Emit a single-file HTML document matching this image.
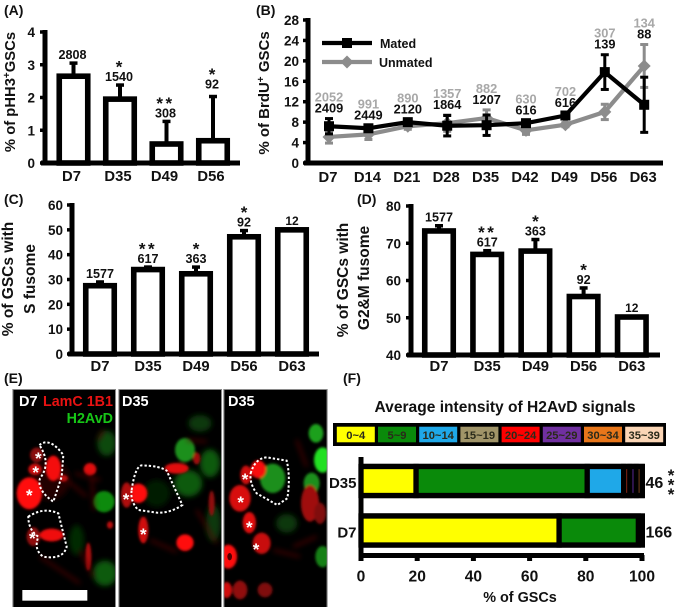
<!DOCTYPE html>
<html lang="en">
<head>
<meta charset="utf-8">
<title>GSC aging figure</title>
<style>
html,body{margin:0;padding:0;background:#fff;}
body{width:676px;height:607px;overflow:hidden;}
svg{display:block;filter:blur(0.35px);}
text{font-family:"Liberation Sans",sans-serif;font-weight:bold;fill:#111;}
</style>
</head>
<body>
<svg id="fig" width="676" height="607" viewBox="0 0 676 607" xmlns="http://www.w3.org/2000/svg">
<defs>
<filter id="soft" x="-50%" y="-50%" width="200%" height="200%"><feGaussianBlur stdDeviation="4"/></filter>
<filter id="softer" x="-50%" y="-50%" width="200%" height="200%"><feGaussianBlur stdDeviation="8"/></filter>
<clipPath id="clip1"><rect x="40" y="30" width="305" height="651"/></clipPath>
<clipPath id="clip2"><rect x="358" y="30" width="305" height="651"/></clipPath>
<clipPath id="clip3"><rect x="673" y="30" width="307" height="651"/></clipPath>
</defs>

<text x="4" y="15" font-size="14">(A)</text>
<text x="256" y="15" font-size="14">(B)</text>
<text x="4" y="204" font-size="14">(C)</text>
<text x="357" y="204" font-size="14">(D)</text>
<text x="4" y="383" font-size="14">(E)</text>
<text x="343" y="383" font-size="14">(F)</text>

<g id="panel-a"></g>
<g id="panel-b"></g>
<g id="panel-c"></g>
<g id="panel-d"></g>

<text transform="translate(15,92) rotate(-90)" text-anchor="middle" font-size="14.8">% of pHH3<tspan font-size="10" dy="-5">+</tspan><tspan dy="5">GSCs</tspan></text>
<text transform="translate(269,93) rotate(-90)" text-anchor="middle" font-size="15">% of BrdU<tspan font-size="10" dy="-5">+</tspan><tspan dy="5"> GSCs</tspan></text>
<text transform="translate(13,279) rotate(-90)" text-anchor="middle" font-size="15.5">% of GSCs with</text>
<text transform="translate(35,279) rotate(-90)" text-anchor="middle" font-size="15.5">S fusome</text>
<text transform="translate(348,280) rotate(-90)" text-anchor="middle" font-size="15.5">% of GSCs with</text>
<text transform="translate(369,278) rotate(-90)" text-anchor="middle" font-size="15.5">G2&amp;M fusome</text>

<g id="panel-e">
  <g transform="translate(0,380) scale(0.33333)">
    <rect x="37" y="27" width="311" height="657" fill="#8a8a8a"/>
    <rect x="355" y="27" width="311" height="657" fill="#8a8a8a"/>
    <rect x="670" y="27" width="313" height="657" fill="#8a8a8a"/>
    <g clip-path="url(#clip1)">
      <rect x="40" y="30" width="305" height="651" fill="#000"/>
      <g filter="url(#softer)">
        <ellipse cx="320" cy="190" rx="28" ry="38" fill="#0b4a0b"/>
        <ellipse cx="315" cy="580" rx="36" ry="38" fill="#0b5a0b"/>
        <ellipse cx="230" cy="480" rx="22" ry="45" fill="#062a06"/>
        <ellipse cx="150" cy="300" rx="60" ry="60" fill="#200404"/>
      </g>
      <g filter="url(#soft)">
        <ellipse cx="312" cy="365" rx="32" ry="32" fill="#0f8a0f"/>
        <ellipse cx="88" cy="340" rx="38" ry="48" fill="#ff0e0e"/>
        <ellipse cx="160" cy="265" rx="23" ry="38" fill="#f50a0a"/>
        <ellipse cx="190" cy="295" rx="14" ry="10" fill="#c01010"/>
        <ellipse cx="110" cy="225" rx="20" ry="22" fill="#8a1010"/>
        <ellipse cx="105" cy="268" rx="20" ry="17" fill="#d01010"/>
        <ellipse cx="270" cy="268" rx="19" ry="19" fill="#e01010"/>
        <ellipse cx="155" cy="465" rx="36" ry="19" fill="#f01010"/>
        <ellipse cx="100" cy="470" rx="20" ry="28" fill="#901010"/>
        <ellipse cx="265" cy="530" rx="9" ry="42" fill="#b01010"/>
        <ellipse cx="330" cy="435" rx="9" ry="11" fill="#c01010"/>
      </g>
      <path d="M275 290 L282 390 M225 280 L300 300 M295 180 L310 150 M240 510 L280 590 M120 530 L240 610 M200 300 L260 350" stroke="#5c0808" stroke-width="6" fill="none" filter="url(#softer)"/>
      <path d="M118 195 Q150 170 190 225 L185 290 L160 365 Q110 330 120 295 Q155 250 118 195Z M85 410 Q130 380 175 400 L200 500 Q190 540 130 530 Q100 510 115 470 Q85 450 85 410Z" fill="none" stroke="#fff" stroke-width="6" stroke-dasharray="7 6"/>
    </g>
    <g clip-path="url(#clip2)">
      <rect x="358" y="30" width="305" height="651" fill="#000"/>
      <g filter="url(#softer)">
        <ellipse cx="565" cy="310" rx="42" ry="40" fill="#0d5a0d"/>
        <ellipse cx="630" cy="250" rx="30" ry="42" fill="#0d5a0d"/>
        <ellipse cx="640" cy="430" rx="22" ry="55" fill="#083808"/>
        <ellipse cx="600" cy="130" rx="35" ry="25" fill="#083808"/>
        <ellipse cx="470" cy="340" rx="40" ry="40" fill="#041c04"/>
      </g>
      <g filter="url(#soft)">
        <ellipse cx="555" cy="210" rx="30" ry="36" fill="#1a8f1a"/>
        <ellipse cx="415" cy="340" rx="27" ry="29" fill="#ff0e0e"/>
        <ellipse cx="380" cy="345" rx="17" ry="38" fill="#b01010"/>
        <ellipse cx="430" cy="450" rx="15" ry="40" fill="#d01010"/>
        <ellipse cx="555" cy="488" rx="26" ry="25" fill="#ff1010"/>
        <ellipse cx="530" cy="265" rx="36" ry="16" fill="#e01010"/>
        <ellipse cx="590" cy="235" rx="11" ry="18" fill="#a01010"/>
        <ellipse cx="635" cy="370" rx="9" ry="38" fill="#901010"/>
      </g>
      <path d="M450 480 L530 515 M590 390 L650 490 M560 180 L620 185" stroke="#5c0808" stroke-width="6" fill="none" filter="url(#softer)"/>
      <path d="M395 330 Q405 260 425 256 Q480 258 500 272 L515 305 L547 375 Q510 400 470 398 L415 390 Q390 365 395 330Z" fill="none" stroke="#fff" stroke-width="6" stroke-dasharray="7 6"/>
    </g>
    <g clip-path="url(#clip3)">
      <rect x="673" y="30" width="307" height="651" fill="#000"/>
      <g filter="url(#softer)">
        <ellipse cx="860" cy="430" rx="32" ry="28" fill="#083808"/>
      </g>
      <g filter="url(#soft)">
        <ellipse cx="818" cy="295" rx="38" ry="44" fill="#1a8f1a"/>
        <ellipse cx="968" cy="240" rx="26" ry="38" fill="#22e022"/>
        <ellipse cx="948" cy="160" rx="22" ry="28" fill="#1fa01f"/>
        <ellipse cx="935" cy="310" rx="24" ry="32" fill="#1c8f1c"/>
        <ellipse cx="968" cy="530" rx="22" ry="32" fill="#148014"/>
        <ellipse cx="775" cy="268" rx="23" ry="27" fill="#f81010"/>
        <ellipse cx="738" cy="285" rx="17" ry="28" fill="#d01010"/>
        <ellipse cx="720" cy="355" rx="32" ry="40" fill="#d81010"/>
        <ellipse cx="748" cy="428" rx="20" ry="32" fill="#e01010"/>
        <ellipse cx="785" cy="490" rx="27" ry="32" fill="#c81010"/>
        <ellipse cx="685" cy="530" rx="26" ry="36" fill="#ff1010"/>
        <ellipse cx="680" cy="630" rx="16" ry="24" fill="#d01010"/>
        <ellipse cx="720" cy="630" rx="22" ry="28" fill="#901010"/>
        <ellipse cx="795" cy="630" rx="22" ry="22" fill="#801010"/>
        <ellipse cx="930" cy="370" rx="27" ry="55" fill="#a01010"/>
        <ellipse cx="960" cy="400" rx="18" ry="32" fill="#801010"/>
      </g>
      <path d="M880 500 L950 470 M890 180 L920 260 M820 510 L900 530" stroke="#5c0808" stroke-width="6" fill="none" filter="url(#softer)"/>
      <ellipse cx="689" cy="530" rx="7" ry="11" fill="#500000"/>
      <path d="M752 280 Q765 235 800 232 L860 242 Q872 290 862 355 L832 375 L770 340 Q748 310 752 280Z" fill="none" stroke="#fff" stroke-width="6" stroke-dasharray="7 6"/>
    </g>
    <rect x="67" y="630" width="195" height="32" fill="#fff"/>
  </g>
  <g font-size="17" text-anchor="middle">
    <text x="38.3" y="464" style="fill:#fff">*</text>
    <text x="35.7" y="478" style="fill:#fff">*</text>
    <text x="29.3" y="501" style="fill:#fff">*</text>
    <text x="32.3" y="544" style="fill:#fff">*</text>
    <text x="126" y="505" style="fill:#fff">*</text>
    <text x="143.3" y="540" style="fill:#fff">*</text>
    <text x="245" y="485" style="fill:#fff">*</text>
    <text x="240.7" y="508" style="fill:#fff">*</text>
    <text x="249.3" y="533" style="fill:#fff">*</text>
    <text x="256" y="555" style="fill:#fff">*</text>
  </g>
  <text x="19" y="406" font-size="14.5" style="fill:#fff">D7</text>
  <text x="43" y="406" font-size="14.3" style="fill:#e81212">LamC 1B1</text>
  <text x="113" y="423" font-size="14.3" text-anchor="end" style="fill:#17c617">H2AvD</text>
  <text x="122" y="406" font-size="14.5" style="fill:#fff">D35</text>
  <text x="228" y="406" font-size="14.5" style="fill:#fff">D35</text>
</g>

<g id="panel-f"></g>
</svg>

<script>
// Panel A
const aCategories = ['D7', 'D35', 'D49', 'D56'];
const aValues = [2.65, 1.95, 0.58, 0.68];
const aErrorTops = [3.05, 2.38, 1.27, 2.03];
const aCounts = ['2808', '1540', '308', '92'];
const aStars = ['', '*', '**', '*'];
const aTicks = [0, 1, 2, 3, 4];

// Panel B
const bCategories = ['D7', 'D14', 'D21', 'D28', 'D35', 'D42', 'D49', 'D56', 'D63'];
const bMated = [7.2, 6.8, 8.0, 7.3, 7.4, 7.8, 9.3, 17.8, 11.4];
const bMatedError = [1.5, 0.5, 0.5, 2.0, 2.0, 0.5, 0.5, 3.4, 5.4];
const bUnmated = [5.1, 5.6, 7.2, 7.8, 8.8, 6.4, 7.5, 10.0, 19.0];
const bUnmatedError = [1.2, 1.0, 0.6, 1.6, 1.6, 0.8, 0.4, 1.5, 4.2];
const bMatedCounts = ['2409', '2449', '2120', '1864', '1207', '616', '616', '139', '88'];
const bUnmatedCounts = ['2052', '991', '890', '1357', '882', '630', '702', '307', '134'];
const bTicks = [0, 4, 8, 12, 16, 20, 24, 28];

// Panel C
const cCategories = ['D7', 'D35', 'D49', 'D56', 'D63'];
const cValues = [27.5, 34, 32.3, 47.2, 50];
const cErrorTops = [29, 35, 35, 49.7, 50];
const cCounts = ['1577', '617', '363', '92', '12'];
const cStars = ['', '**', '*', '*', ''];
const cTicks = [0, 10, 20, 30, 40, 50, 60];

// Panel D
const dCategories = ['D7', 'D35', 'D49', 'D56', 'D63'];
const dValues = [73.3, 67, 67.9, 55.7, 50.2];
const dErrorTops = [74.7, 68, 71, 58, 50.2];
const dCounts = ['1577', '617', '363', '92', '12'];
const dStars = ['', '**', '*', '*', ''];
const dTicks = [40, 50, 60, 70, 80];

// Panel F
const fLegendLabels = ['0~4', '5~9', '10~14', '15~19', '20~24', '25~29', '30~34', '35~39'];
const fLegendColors = ['#ffff00', '#0a8a0a', '#1fa8e8', '#a09468', '#ff0000', '#7030a0', '#e8761a', '#fbd5b5'];
const fCategories = ['D35', 'D7'];
const fD35Shares = [19.6, 60.9, 13, 2.2, 2.2, 2.1];
const fD35Colors = ['#ffff00', '#0a8a0a', '#1fa8e8', '#b0301a', '#6a30b0', '#c06a30'];
const fD7Shares = [70.5, 28.2];
const fD7Colors = ['#ffff00', '#0a8a0a'];
const fCounts = ['46', '166'];
const fTicks = [0, 20, 40, 60, 80, 100];

const NS = 'http://www.w3.org/2000/svg';
function add(parent, tag, attrs, text) {
  const el = document.createElementNS(NS, tag);
  for (const k in attrs) el.setAttribute(k, attrs[k]);
  if (text !== undefined) el.textContent = text;
  parent.appendChild(el);
  return el;
}
function linear(d0, d1, r0, r1) {
  return function (v) { return r0 + (v - d0) * (r1 - r0) / (d1 - d0); };
}
function slug(s) { return String(s).toLowerCase(); }

function drawYAxis(g, axisX, ticks, y, labelRight, xEnd, xBase, panel) {
  const yAxis = add(g, 'line', { x1: axisX, x2: axisX, y1: y(ticks[ticks.length - 1]) - 2, y2: xBase + 2, stroke: '#000', 'stroke-width': 5 });
  
  
  const xAxis = add(g, 'line', { x1: axisX - 4, x2: xEnd, y1: xBase, y2: xBase, stroke: '#000', 'stroke-width': 5 });
  
  
  ticks.forEach(function (t) {
    const tick = add(g, 'line', { x1: axisX - 5, x2: axisX, y1: y(t), y2: y(t), stroke: '#000', 'stroke-width': 3.5 });
    
    
    const lab = add(g, 'text', { x: labelRight, y: y(t) + 5, 'text-anchor': 'end', 'font-size': 13.5 }, t);
    
    
  });
}

function drawBarPanel(o) {
  const g = document.getElementById(o.id);
  const y = linear(o.ticks[0], o.ticks[o.ticks.length - 1], o.yBase, o.yTop);
  const x = function (i) { return o.x0 + o.step * i; };
  o.values.forEach(function (v, i) {
    const cx = x(i);
    if (o.errors[i] > v) {
      const stem = add(g, 'line', { x1: cx, x2: cx, y1: y(o.errors[i]), y2: y(v), stroke: '#000', 'stroke-width': 4 });
      
      
      const cap = add(g, 'line', { x1: cx - 4, x2: cx + 4, y1: y(o.errors[i]), y2: y(o.errors[i]), stroke: '#000', 'stroke-width': 3.5 });
      
      
    }
    const bar = add(g, 'rect', { x: cx - o.barW / 2, y: y(v), width: o.barW, height: o.yBase - y(v), fill: '#fff', stroke: '#000', 'stroke-width': 5.6 });
    
    
    const tick = add(g, 'text', { x: cx + o.labelShift, y: o.yBase + o.labelDrop, 'text-anchor': 'middle', 'font-size': 14.8 }, o.cats[i]);
    
    
    const top = Math.min(y(o.errors[i]) - 2, y(v) - 2.8);
    const base = top - o.gap(i);
    const count = add(g, 'text', { x: cx + o.labelShift / 2, y: base, 'text-anchor': 'middle', 'font-size': o.counts[i] === '12' ? 12 : 12.6 }, o.counts[i]);
    
    
    if (o.stars[i]) {
      const star = add(g, 'text', { x: cx + o.labelShift / 2, y: base - 8.5, 'text-anchor': 'middle', 'font-size': 17, 'letter-spacing': o.stars[i].length > 1 ? 2.5 : 0 }, o.stars[i]);
      
      
    }
  });
  drawYAxis(g, o.axisX, o.ticks, y, o.tickRight, o.xEnd, o.yBase, o.panel);
}

drawBarPanel({ id: 'panel-a', panel: 'a', cats: aCategories, values: aValues, errors: aErrorTops, counts: aCounts, stars: aStars, ticks: aTicks,
  yBase: 163, yTop: 32, x0: 73.5, step: 46.5, barW: 28.5, labelShift: -2, labelDrop: 18, axisX: 45, tickRight: 35, xEnd: 240,
  gap: function (i) { return i === 3 ? 6 : 2; } });
drawBarPanel({ id: 'panel-c', panel: 'c', cats: cCategories, values: cValues, errors: cErrorTops, counts: cCounts, stars: cStars, ticks: cTicks,
  yBase: 354, yTop: 205, x0: 100, step: 48, barW: 28.5, labelShift: 0, labelDrop: 17, axisX: 72, tickRight: 63, xEnd: 319,
  gap: function () { return 2; } });
drawBarPanel({ id: 'panel-d', panel: 'd', cats: dCategories, values: dValues, errors: dErrorTops, counts: dCounts, stars: dStars, ticks: dTicks,
  yBase: 355, yTop: 206, x0: 439, step: 48.2, barW: 28.5, labelShift: 0, labelDrop: 16, axisX: 411, tickRight: 401, xEnd: 660,
  gap: function () { return 2; } });

(function drawLinePanel() {
  const g = document.getElementById('panel-b');
  const y = linear(0, 28, 163, 20);
  const x = function (i) { return 329 + 39.4 * i; };
  drawYAxis(g, 308, bTicks, y, 299, 663, 163, 'b');

  function series(values, errors, color, key, kind) {
    errors.forEach(function (e, i) {
      const stem = add(g, 'line', { x1: x(i), x2: x(i), y1: y(values[i] + e), y2: y(values[i] - e), stroke: color, 'stroke-width': 3 });
      
      
      [values[i] + e, values[i] - e].forEach(function (c) {
        const cap = add(g, 'line', { x1: x(i) - 4, x2: x(i) + 4, y1: y(c), y2: y(c), stroke: color, 'stroke-width': 3 });
        
        
      });
    });
    const pts = values.map(function (v, i) { return x(i) + ',' + y(v); }).join(' ');
    const line = add(g, 'polyline', { points: pts, fill: 'none', stroke: color, 'stroke-width': 4.2 });
    
    
    values.forEach(function (v, i) {
      const cx = x(i), cy = y(v);
      let m;
      if (kind === 'square') {
        m = add(g, 'rect', { x: cx - 5, y: cy - 5, width: 10, height: 10, fill: color });
      } else {
        m = add(g, 'polygon', { points: [cx, cy - 6.5, cx + 6.5, cy, cx, cy + 6.5, cx - 6.5, cy].join(' '), fill: color });
      }
      
      
    });
  }
  series(bUnmated, bUnmatedError, '#8c8c8c', 'unmated', 'diamond');
  series(bMated, bMatedError, '#000', 'mated', 'square');

  bCategories.forEach(function (c, i) {
    const tick = add(g, 'text', { x: x(i) - 1, y: 182, 'text-anchor': 'middle', 'font-size': 14.8 }, c);
    
    
    const top = Math.min(y(bMated[i] + bMatedError[i]), y(bUnmated[i] + bUnmatedError[i]));
    const black = add(g, 'text', { x: x(i), y: top - 6, 'text-anchor': 'middle', 'font-size': 12.8 }, bMatedCounts[i]);
    
    
    const grey = add(g, 'text', { x: x(i), y: top - 17, 'text-anchor': 'middle', 'font-size': 12.8, style: 'fill:#a8a8a8' }, bUnmatedCounts[i]);
    
    
  });

  const ml = add(g, 'line', { x1: 322, x2: 372, y1: 43, y2: 43, stroke: '#000', 'stroke-width': 4.2 });
  
  
  const mm = add(g, 'rect', { x: 342, y: 38, width: 10, height: 10, fill: '#000' });
  
  
  const mt = add(g, 'text', { x: 380, y: 48, 'font-size': 12.5 }, 'Mated');
  
  
  const ul = add(g, 'line', { x1: 322, x2: 372, y1: 62, y2: 62, stroke: '#8c8c8c', 'stroke-width': 4.2 });
  
  
  const um = add(g, 'polygon', { points: '347,55.5 353.5,62 347,68.5 340.5,62', fill: '#8c8c8c' });
  
  
  const ut = add(g, 'text', { x: 379, y: 67, 'font-size': 12.5 }, 'Unmated');
  
  
})();

(function drawPanelF() {
  const g = document.getElementById('panel-f');
  const x = linear(0, 100, 361, 642);
  const title = add(g, 'text', { x: 505, y: 412, 'text-anchor': 'middle', 'font-size': 15.5, textLength: 261, lengthAdjust: 'spacingAndGlyphs' }, 'Average intensity of H2AvD signals');
  
  

  const lb = add(g, 'rect', { x: 333, y: 423, width: 333, height: 23, fill: '#000' });
  
  
  fLegendLabels.forEach(function (l, i) {
    const sw = add(g, 'rect', { x: 336.8 + i * 41.2, y: 426.7, width: 38, height: 15.6, fill: fLegendColors[i] });
    
    
    const t = add(g, 'text', { x: 355.8 + i * 41.2, y: 438.8, 'text-anchor': 'middle', 'font-size': 11.2, style: 'fill:#2a2a1a' }, l);
    
    
  });

  function stack(cat, shares, colors, cy, count) {
    const back = add(g, 'rect', { x: x(0), y: cy - 17.2, width: x(100) + 3 - x(0), height: 34.4, fill: '#000' });
    
    
    let sum = 0;
    shares.forEach(function (s, i) {
      const r = add(g, 'rect', { x: x(sum), y: cy - 14.5, width: x(sum + s) - x(sum), height: 29, fill: colors[i], stroke: '#000', 'stroke-width': 5.3 });
      
      
      sum += s;
    });
    const lab = add(g, 'text', { x: 356.5, y: cy + 7, 'text-anchor': 'end', 'font-size': 15 }, cat);
    
    
    const c = add(g, 'text', { x: 645.5, y: cy + 7, 'font-size': 16 }, count);
    
    
  }
  stack(fCategories[0], fD35Shares, fD35Colors, 481, fCounts[0]);
  stack(fCategories[1], fD7Shares, fD7Colors, 530.5, fCounts[1]);

  [481, 490.5, 500].forEach(function (sy) {
    const s = add(g, 'text', { x: 671, y: sy, 'text-anchor': 'middle', 'font-size': 17 }, '*');
    
    
  });

  const yAxis = add(g, 'line', { x1: 361, x2: 361, y1: 457, y2: 558, stroke: '#000', 'stroke-width': 5 });
  
  
  const xAxis = add(g, 'line', { x1: 359, x2: 644, y1: 555.5, y2: 555.5, stroke: '#000', 'stroke-width': 5 });
  
  
  fTicks.forEach(function (t) {
    const tick = add(g, 'line', { x1: x(t), x2: x(t), y1: 555, y2: 561, stroke: '#000', 'stroke-width': 5 });
    
    
    const lab = add(g, 'text', { x: x(t), y: 581.5, 'text-anchor': 'middle', 'font-size': 15.6 }, t);
    
    
  });
  const xt = add(g, 'text', { x: 520, y: 602, 'text-anchor': 'middle', 'font-size': 14.4 }, '% of GSCs');
  
  
})();
</script>
</body>
</html>
